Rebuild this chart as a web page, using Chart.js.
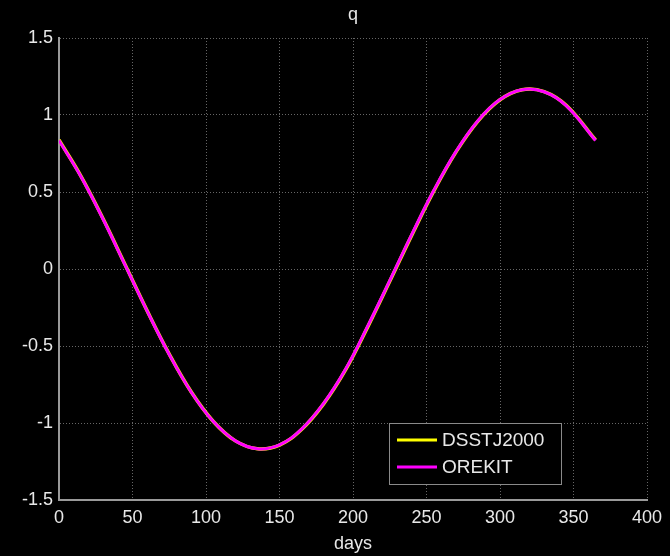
<!DOCTYPE html>
<html>
<head>
<meta charset="utf-8">
<script src="https://cdn.jsdelivr.net/npm/chart.js@4"></script>
<style>
  html, body { margin: 0; background: #000; }
</style>
</head>
<body>
<canvas id="qChart" width="670" height="556"></canvas>
<script>
// q element over one year, two propagators
const days      = [0, 15, 30, 45, 60, 75, 90, 105, 120, 135, 150, 165, 180, 195, 210, 225, 240, 255, 270, 285, 300, 315, 330, 345, 365];
const dsstJ2000 = [0.838, 0.602, 0.326, 0.028, -0.272, -0.553, -0.799, -0.990, -1.116, -1.167, -1.143, -1.042, -0.876, -0.654, -0.376, -0.080, 0.220, 0.507, 0.759, 0.961, 1.099, 1.164, 1.152, 1.063, 0.838];
const orekit    = [0.835, 0.599, 0.323, 0.025, -0.274, -0.555, -0.800, -0.991, -1.116, -1.167, -1.142, -1.040, -0.873, -0.650, -0.371, -0.075, 0.225, 0.511, 0.762, 0.963, 1.100, 1.164, 1.151, 1.061, 0.835];
const xTicks = [0, 50, 100, 150, 200, 250, 300, 350, 400];
const yTicks = [-1.5, -1, -0.5, 0, 0.5, 1, 1.5];

const FONT = 'Liberation Sans, Arial, Helvetica, sans-serif';
const TEXT = '#e8e8e8';

const toPoints = ys => days.map((d, i) => ({ x: d, y: ys[i] }));

// title over the plot box
const titlePlugin = {
  id: 'plotTitle',
  afterDraw(chart) {
    const { ctx, chartArea } = chart;
    ctx.save();
    ctx.fillStyle = TEXT;
    ctx.font = '18px ' + FONT;
    ctx.textAlign = 'center';
    ctx.textBaseline = 'middle';
    ctx.fillText('q', (chartArea.left + chartArea.right) / 2, 15);
    ctx.restore();
  }
};

// boxed legend in the lower right of the plot
const boxLegend = {
  id: 'boxLegend',
  afterDraw(chart) {
    const { ctx } = chart;
    const x = 389, y = 423, w = 172, h = 61;
    ctx.save();
    ctx.fillStyle = '#000';
    ctx.fillRect(x, y, w, h);
    ctx.strokeStyle = '#8a8a8a';
    ctx.lineWidth = 1;
    ctx.strokeRect(x + 0.5, y + 0.5, w, h);
    ctx.font = '19px ' + FONT;
    ctx.textBaseline = 'middle';
    chart.data.datasets.forEach((ds, i) => {
      const cy = y + 17 + i * 27;
      ctx.strokeStyle = ds.borderColor;
      ctx.lineWidth = 3;
      ctx.beginPath();
      ctx.moveTo(x + 8, cy);
      ctx.lineTo(x + 48, cy);
      ctx.stroke();
      ctx.fillStyle = TEXT;
      ctx.fillText(ds.label, x + 53, cy + 1);
    });
    ctx.restore();
  }
};

new Chart(document.getElementById('qChart').getContext('2d'), {
  type: 'line',
  data: {
    datasets: [
      { label: 'DSSTJ2000', data: toPoints(dsstJ2000), borderColor: '#ffff00', borderWidth: 3.5, pointRadius: 0, tension: 0.4, order: 2 },
      { label: 'OREKIT', data: toPoints(orekit), borderColor: '#ff00ff', borderWidth: 3, pointRadius: 0, tension: 0.4, order: 1 }
    ]
  },
  options: {
    responsive: false,
    animation: false,
    layout: { padding: { top: 38, right: 23, left: 0, bottom: 0 } },
    plugins: {
      legend: { display: false },
      title: { display: false },
      tooltip: { enabled: false }
    },
    scales: {
      x: {
        type: 'linear',
        min: xTicks[0],
        max: xTicks[xTicks.length - 1],
        afterFit: s => { s.height = 56; },
        afterBuildTicks: s => { s.ticks = xTicks.map(v => ({ value: v })); },
        ticks: { color: TEXT, font: { family: FONT, size: 18 }, padding: 7, maxRotation: 0, callback: v => String(v) },
        grid: { color: '#666', lineWidth: 1, drawTicks: false },
        border: { display: true, color: '#9a9a9a', width: 2, dash: [1, 2] },
        title: { display: true, text: 'days', color: TEXT, font: { family: FONT, size: 18 }, padding: { top: 0, bottom: 1 } }
      },
      y: {
        min: yTicks[0],
        max: yTicks[yTicks.length - 1],
        afterFit: s => { s.width = 59; },
        afterBuildTicks: s => { s.ticks = yTicks.map(v => ({ value: v })); },
        ticks: { color: TEXT, font: { family: FONT, size: 18 }, padding: 6, callback: v => String(v) },
        grid: { color: '#666', lineWidth: 1, drawTicks: false },
        border: { display: true, color: '#9a9a9a', width: 2, dash: [1, 2] }
      }
    }
  },
  plugins: [titlePlugin, boxLegend]
});
</script>
</body>
</html>
